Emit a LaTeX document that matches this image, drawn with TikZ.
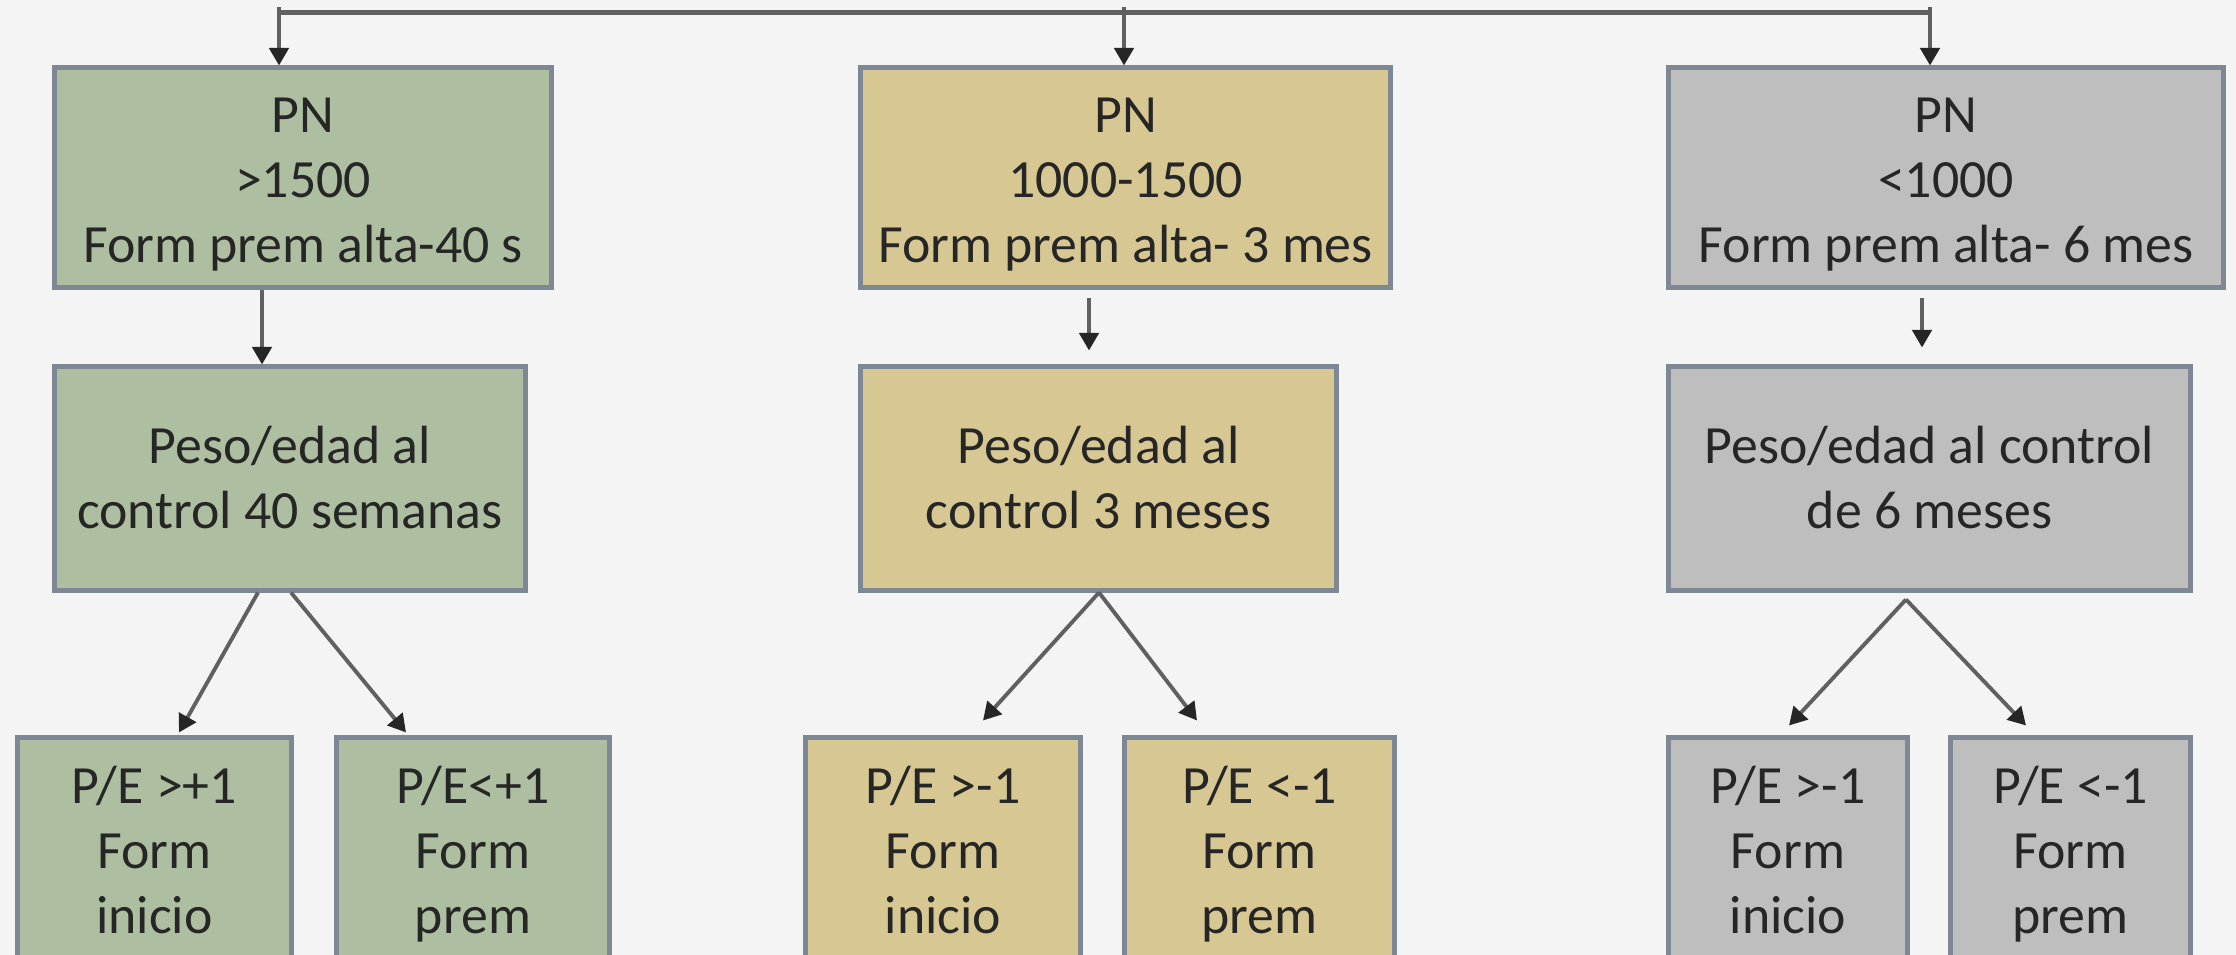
\documentclass[tikz,border=0pt]{standalone}
\usepackage{fontspec}
\setmainfont{Carlito}
\usetikzlibrary{arrows.meta, calc, positioning}
\definecolor{fondo}{HTML}{F4F4F4}
\definecolor{borde}{HTML}{7D8894}
\definecolor{linea}{HTML}{606060}
\definecolor{texto}{HTML}{262626}
\definecolor{verde}{HTML}{ADBFA0}
\definecolor{ocre}{HTML}{D7C893}
\definecolor{gris}{HTML}{BEBEBE}
\tikzset
{
caja/.style={draw=borde, line width=1.4pt, inner sep=0pt, align=center, text=texto,
	font=\fontsize{15.3}{18.5}\selectfont},
tres/.style={text height=53.5pt, text depth=5pt},
dos/.style={text height=33.7pt, text depth=5pt},
cverde/.style={caja, fill=verde},
cocre/.style={caja, fill=ocre},
cgris/.style={caja, fill=gris},
flecha/.style={draw=linea, line width=1.1pt, -{Triangle[length=5pt, width=5.5pt, color=texto]}},
bus/.style={draw=linea, line width=1.3pt}
}
\begin{document}
\begin{tikzpicture}[x=0.01cm, y=-0.01cm]
	\fill[fondo] (0,0) rectangle (2236,955);
	\useasboundingbox (0,0) rectangle (2236,955);

		% [FIRST COLUMN] PN >1500
		\node[cverde, tres, minimum width=4.96cm, minimum height=2.19cm] (pn1) at (303,177.5) {PN\\>1500\\Form prem alta-40 s};
		\node[cverde, dos, minimum width=4.70cm, minimum height=2.23cm] (pe1) at (290,478.5) {Peso/edad al\\control 40 semanas};
		\node[cverde, tres, minimum width=2.73cm, minimum height=2.20cm] (ini1) at (154.5,848) {P/E >+1\\Form\\inicio};
		\node[cverde, tres, minimum width=2.72cm, minimum height=2.20cm] (pre1) at (473,848) {P/E<+1\\Form\\prem};

		% [SECOND COLUMN] PN 1000-1500
		\node[cocre, tres, minimum width=5.29cm, minimum height=2.19cm] (pn2) at (1125.5,177.5) {PN\\1000-1500\\Form prem alta- 3 mes};
		\node[cocre, dos, minimum width=4.75cm, minimum height=2.23cm] (pe2) at (1098.5,478.5) {Peso/edad al\\control 3 meses};
		\node[cocre, tres, minimum width=2.74cm, minimum height=2.20cm] (ini2) at (943,848) {P/E >-1\\Form\\inicio};
		\node[cocre, tres, minimum width=2.69cm, minimum height=2.20cm] (pre2) at (1259.5,848) {P/E <-1\\Form\\prem};

		% [THIRD COLUMN] PN <1000
		\node[cgris, tres, minimum width=5.54cm, minimum height=2.19cm] (pn3) at (1946,177.5) {PN\\<1000\\Form prem alta- 6 mes};
		\node[cgris, dos, minimum width=5.21cm, minimum height=2.23cm] (pe3) at (1929.5,478.5) {Peso/edad al control\\de 6 meses};
		\node[cgris, tres, minimum width=2.38cm, minimum height=2.20cm] (ini3) at (1788,848) {P/E >-1\\Form\\inicio};
		\node[cgris, tres, minimum width=2.39cm, minimum height=2.20cm] (pre3) at (2070.5,848) {P/E <-1\\Form\\prem};

		% top line
		\coordinate (b1) at ($(pn1.north)+(-24,-53)$);
		\coordinate (b2) at ($(pn2.north)+(-1.5,-53)$);
		\coordinate (b3) at ($(pn3.north)+(-16,-53)$);
		\path[bus] (b1) -- (b3);
		\path[flecha] ($(b1)+(0,-5)$) -- ($(pn1.north)+(-24,0)$);
		\path[flecha] ($(b2)+(0,-5)$) -- ($(pn2.north)+(-1.5,0)$);
		\path[flecha] ($(b3)+(0,-5)$) -- ($(pn3.north)+(-16,0)$);

		% PN -> Peso/edad
		\path[flecha] ($(pn1.south)+(-41,0)$) -- ($(pe1.north)+(-28,0)$);
		\path[flecha] ($(pn2.south)+(-36.5,8)$) -- ($(pe2.north)+(-9.5,-14)$);
		\path[flecha] ($(pn3.south)+(-24,8)$) -- ($(pe3.north)+(-7.5,-17)$);

		% Peso/edad -> P/E
		\path[flecha] ($(pe1.south)+(-32,0)$) -- ($(ini1.north)+(24.5,-3)$);
		\path[flecha] ($(pe1.south)+(1,0)$) -- ($(pre1.north)+(-67,-3)$);
		\path[flecha] ($(pe2.south)+(0.5,0)$) -- ($(ini2.north)+(40,-15)$);
		\path[flecha] ($(pe2.south)+(0.5,0)$) -- ($(pre2.north)+(-62.5,-15)$);
		\path[flecha] ($(pe3.south)+(-23.5,7)$) -- ($(ini3.north)+(1,-10)$);
		\path[flecha] ($(pe3.south)+(-23.5,7)$) -- ($(pre3.north)+(-44.5,-10)$);
\end{tikzpicture}
\end{document}
